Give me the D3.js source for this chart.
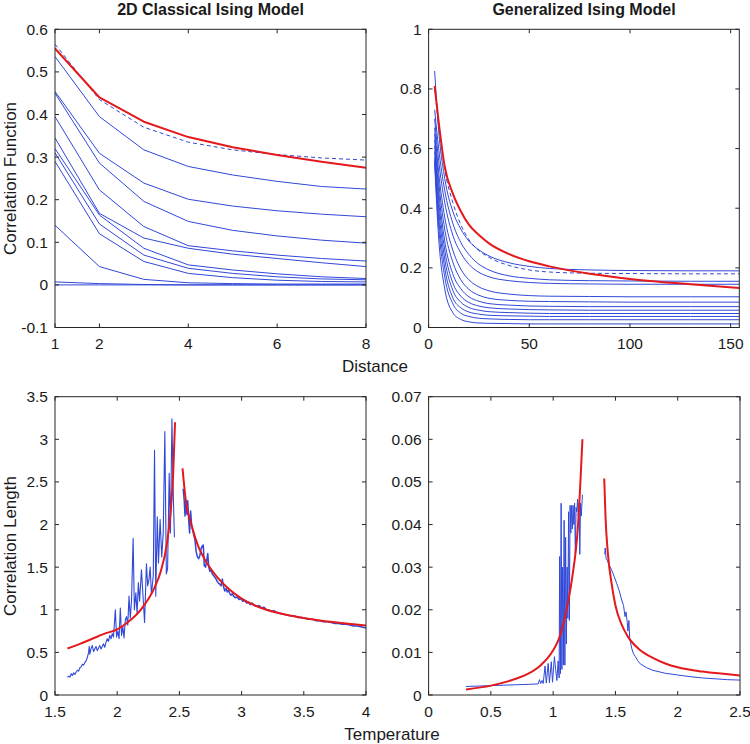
<!DOCTYPE html>
<html><head><meta charset="utf-8">
<script src="https://cdn.jsdelivr.net/npm/d3@7"></script>
<style>body{margin:0;background:#fff}svg{display:block}text{font-family:"Liberation Sans",Arial,Helvetica,sans-serif;fill:#1a1a1a}</style>
</head><body><svg id="c" width="750" height="744"></svg>
<script>
// ---------- DATA ----------
// Top-left: 2D Classical Ising, correlation vs distance
const tlDist = [1,2,3,4,5,6,7,8];
const tlFit = [0.555,0.440,0.383,0.347,0.323,0.305,0.289,0.275];
const tlDashed = [0.565,0.435,0.370,0.335,0.317,0.306,0.298,0.293];
const tlCurves = [
  [0.536,0.395,0.317,0.278,0.258,0.243,0.231,0.225],
  [0.454,0.309,0.239,0.201,0.185,0.174,0.166,0.160],
  [0.450,0.286,0.196,0.149,0.128,0.115,0.105,0.098],
  [0.395,0.223,0.137,0.092,0.080,0.070,0.062,0.056],
  [0.345,0.168,0.110,0.086,0.072,0.062,0.052,0.043],
  [0.320,0.164,0.086,0.047,0.035,0.026,0.019,0.015],
  [0.310,0.143,0.070,0.039,0.027,0.019,0.014,0.012],
  [0.290,0.120,0.055,0.027,0.017,0.011,0.008,0.007],
  [0.140,0.043,0.013,0.005,0.003,0.002,0.002,0.002],
  [0.007,0.003,0.001,0.000,0.000,0.000,0.000,0.000],
  [0.000,0.000,0.000,0.000,0.000,0.000,0.000,0.000]
];
// Top-right: Generalized Ising, correlation vs distance
const trDist = [3,5,8,12,16,20,25,30,40,50,60,80,100,130,155];
const trFit = [0.81,0.69,0.54,0.45,0.39,0.345,0.31,0.282,0.246,0.222,0.205,0.180,0.163,0.145,0.132];
const trDashed = [0.80,0.68,0.53,0.42,0.345,0.295,0.258,0.235,0.208,0.193,0.186,0.182,0.181,0.180,0.180];
const trCurves = [
  [0.86,0.66,0.50,0.39,0.33,0.29,0.26,0.24,0.217,0.205,0.198,0.193,0.191,0.190,0.190],
  [0.73,0.60,0.46,0.35,0.285,0.245,0.212,0.193,0.173,0.165,0.160,0.157,0.156,0.155,0.155],
  [0.70,0.56,0.42,0.31,0.25,0.212,0.185,0.170,0.157,0.151,0.148,0.146,0.145,0.145,0.145],
  [0.67,0.52,0.37,0.26,0.196,0.160,0.136,0.123,0.112,0.107,0.105,0.104,0.103,0.103,0.103],
  [0.65,0.49,0.33,0.22,0.160,0.128,0.108,0.098,0.091,0.088,0.087,0.086,0.085,0.085,0.085],
  [0.63,0.46,0.29,0.18,0.130,0.103,0.088,0.080,0.075,0.072,0.071,0.070,0.070,0.070,0.070],
  [0.61,0.43,0.26,0.15,0.105,0.084,0.072,0.066,0.062,0.060,0.059,0.058,0.058,0.058,0.058],
  [0.59,0.40,0.23,0.125,0.085,0.067,0.058,0.053,0.050,0.048,0.047,0.047,0.047,0.047,0.047],
  [0.57,0.37,0.20,0.10,0.066,0.052,0.045,0.041,0.039,0.038,0.037,0.037,0.037,0.037,0.037],
  [0.56,0.34,0.17,0.08,0.048,0.037,0.031,0.029,0.027,0.026,0.026,0.026,0.026,0.026,0.026],
  [0.55,0.30,0.13,0.05,0.027,0.019,0.015,0.014,0.013,0.012,0.012,0.012,0.012,0.012,0.012]
];
// Bottom-left: correlation length vs temperature (classical)
const blTempLow = [1.600,1.610,1.620,1.630,1.640,1.650,1.660,1.670,1.680,1.690,1.700,1.710,1.720,1.730,1.740,1.750,1.760,1.770,1.775,1.780,1.790,1.800,1.810,1.820,1.830,1.840,1.850,1.860,1.870,1.880,1.890,1.900,1.910,1.920,1.930,1.940,1.950,1.960,1.970,1.985,1.995,2.005,2.015,2.025,2.035,2.045,2.055,2.065,2.075,2.085,2.095,2.105,2.115,2.128,2.138,2.150,2.160,2.170,2.180,2.195,2.210,2.220,2.235,2.245,2.255,2.265,2.275,2.290,2.300,2.310,2.322,2.332,2.345,2.358,2.370,2.383,2.395,2.405,2.418,2.428,2.440,2.450,2.460];
const blLenLow = [0.21,0.22,0.21,0.25,0.23,0.26,0.24,0.27,0.29,0.28,0.32,0.33,0.36,0.35,0.38,0.40,0.44,0.50,0.57,0.48,0.55,0.58,0.51,0.54,0.57,0.52,0.55,0.58,0.54,0.57,0.60,0.56,0.62,0.66,0.63,0.70,0.66,0.72,0.68,1.00,0.68,0.75,0.66,1.02,0.70,0.80,0.67,0.88,0.92,0.82,1.16,0.90,1.10,1.84,1.00,1.20,0.95,1.32,1.10,1.47,1.10,0.85,1.54,1.28,1.35,1.50,1.18,1.40,2.87,1.16,2.09,1.55,2.06,1.62,1.90,3.09,1.42,1.48,2.60,1.90,3.24,2.40,1.85];
const blTempHigh = [2.530,2.538,2.545,2.552,2.560,2.567,2.575,2.582,2.590,2.598,2.605,2.615,2.625,2.635,2.645,2.655,2.665,2.675,2.685,2.692,2.700,2.710,2.720,2.728,2.736,2.745,2.755,2.765,2.775,2.785,2.795,2.805,2.815,2.825,2.835,2.845,2.855,2.865,2.875,2.885,2.895,2.905,2.915,2.925,2.935,2.950,2.965,2.980,2.995,3.010,3.025,3.040,3.055,3.070,3.085,3.100,3.120,3.140,3.160,3.180,3.200,3.220,3.240,3.260,3.280,3.300,3.330,3.360,3.390,3.420,3.450,3.480,3.510,3.540,3.570,3.600,3.630,3.660,3.690,3.720,3.750,3.780,3.810,3.840,3.870,3.900,3.930,3.960,3.990,4.000];
const blLenHigh = [2.42,2.30,2.10,2.28,2.12,2.28,2.05,1.90,2.16,2.00,1.95,1.88,1.82,1.68,1.62,1.60,1.64,1.72,1.75,1.76,1.52,1.50,1.58,1.66,1.50,1.45,1.47,1.42,1.40,1.38,1.36,1.33,1.31,1.30,1.28,1.36,1.27,1.22,1.25,1.21,1.23,1.19,1.17,1.19,1.16,1.14,1.15,1.12,1.13,1.10,1.11,1.08,1.09,1.06,1.08,1.05,1.04,1.05,1.02,1.03,1.00,1.00,0.98,0.99,0.97,0.96,0.95,0.94,0.93,0.93,0.91,0.91,0.90,0.89,0.89,0.87,0.87,0.86,0.86,0.85,0.84,0.84,0.83,0.83,0.82,0.81,0.81,0.80,0.79,0.79];
const blFitLowT = [1.60,1.70,1.80,1.90,2.00,2.10,2.20,2.30,2.35,2.40,2.43,2.45,2.465];
const blFitLowV = [0.545,0.60,0.66,0.72,0.77,0.87,1.02,1.26,1.45,1.78,2.15,2.60,3.20];
const blFitHighT = [2.525,2.55,2.60,2.65,2.70,2.80,2.90,3.00,3.20,3.40,3.60,3.80,4.00];
const blFitHighV = [2.66,2.30,1.98,1.75,1.60,1.39,1.24,1.13,1.00,0.93,0.88,0.845,0.815];
// Bottom-right: correlation length vs temperature (generalized)
const brTempLow = [0.30,0.40,0.50,0.60,0.70,0.80,0.88,0.89,0.90,0.91,0.92,0.935,0.945,0.96,0.97,0.985,0.995,1.01,1.02,1.03,1.04,1.048,1.052,1.058,1.064,1.07,1.076,1.082,1.088,1.094,1.10,1.106,1.112,1.118,1.124,1.13,1.136,1.142,1.148,1.154,1.16,1.166,1.172,1.178,1.184,1.19,1.196,1.202,1.208,1.214,1.22,1.226,1.235];
const brLenLow = [0.0020,0.0021,0.0022,0.0023,0.0024,0.0025,0.0026,0.0036,0.0027,0.0034,0.0027,0.0068,0.0028,0.0074,0.0029,0.0078,0.0030,0.0090,0.0060,0.0034,0.0080,0.0040,0.0325,0.0050,0.0450,0.0060,0.0300,0.0070,0.0410,0.0070,0.0370,0.0120,0.0300,0.0180,0.0430,0.0175,0.0445,0.0380,0.0445,0.0390,0.0445,0.0400,0.0450,0.0330,0.0440,0.0430,0.0460,0.0420,0.0450,0.0330,0.0450,0.0420,0.0470];
const brTempHigh = [1.414,1.418,1.425,1.435,1.45,1.47,1.49,1.51,1.53,1.55,1.565,1.577,1.585,1.595,1.60,1.608,1.615,1.62,1.63,1.643,1.66,1.68,1.70,1.75,1.80,1.90,2.00,2.10,2.20,2.30,2.40,2.50];
const brLenHigh = [0.0330,0.0345,0.0320,0.0315,0.0305,0.0293,0.0278,0.0262,0.0245,0.0223,0.0210,0.0184,0.0195,0.0170,0.0150,0.0175,0.0130,0.0125,0.0110,0.0098,0.0090,0.0080,0.0073,0.0064,0.0058,0.0051,0.0047,0.0043,0.0040,0.0038,0.0036,0.0035];
const brFitLowT = [0.30,0.50,0.70,0.80,0.90,1.00,1.05,1.10,1.15,1.20,1.235];
const brFitLowV = [0.0013,0.0022,0.0038,0.0050,0.0070,0.0105,0.0135,0.0190,0.0270,0.0400,0.0600];
const brFitHighT = [1.41,1.42,1.44,1.47,1.50,1.55,1.60,1.70,1.80,1.90,2.00,2.20,2.50];
const brFitHighV = [0.0508,0.0420,0.0330,0.0260,0.0210,0.0165,0.0137,0.0105,0.0087,0.0074,0.0065,0.0055,0.0046];

// ticks
const tlXTicks=[1,2,4,6,8], tlXLabels=["1","2","4","6","8"];
const tlYTicks=[-0.1,0,0.1,0.2,0.3,0.4,0.5,0.6], tlYLabels=["-0.1","0","0.1","0.2","0.3","0.4","0.5","0.6"];
const trXTicks=[0,50,100,150], trXLabels=["0","50","100","150"];
const trYTicks=[0,0.2,0.4,0.6,0.8,1], trYLabels=["0","0.2","0.4","0.6","0.8","1"];
const blXTicks=[1.5,2,2.5,3,3.5,4], blXLabels=["1.5","2","2.5","3","3.5","4"];
const blYTicks=[0,0.5,1,1.5,2,2.5,3,3.5], blYLabels=["0","0.5","1","1.5","2","2.5","3","3.5"];
const brXTicks=[0,0.5,1,1.5,2,2.5], brXLabels=["0","0.5","1","1.5","2","2.5"];
const brYTicks=[0,0.01,0.02,0.03,0.04,0.05,0.06,0.07], brYLabels=["0","0.01","0.02","0.03","0.04","0.05","0.06","0.07"];

// ---------- DRAW ----------
const svg=d3.select("#c");
const BLUE="#3048d8", RED="#e3191c", AX="#262626";
let clipN=0;
function panel(o){
  const x=d3.scaleLinear().domain(o.xd).range([o.l,o.r]);
  const y=d3.scaleLinear().domain(o.yd).range([o.b,o.t]);
  const g=svg.append("g");
  const id="clip"+(clipN++);
  svg.append("clipPath").attr("id",id).append("rect").attr("x",o.l).attr("y",o.t).attr("width",o.r-o.l).attr("height",o.b-o.t);
  const plot=g.append("g").attr("clip-path",`url(#${id})`);
  o.draw(plot,x,y);
  g.append("rect").attr("x",o.l).attr("y",o.t).attr("width",o.r-o.l).attr("height",o.b-o.t).attr("fill","none").attr("stroke",AX).attr("stroke-width",1);
  const tl=4;
  o.xt.forEach((v,i)=>{
    const px=x(v);
    g.append("line").attr("x1",px).attr("x2",px).attr("y1",o.b).attr("y2",o.b-tl).attr("stroke",AX);
    g.append("line").attr("x1",px).attr("x2",px).attr("y1",o.t).attr("y2",o.t+tl).attr("stroke",AX);
    g.append("text").attr("x",px).attr("y",o.b+21.5).attr("text-anchor","middle").attr("font-size","15.5px").text(o.xl[i]);
  });
  o.yt.forEach((v,i)=>{
    const py=y(v);
    g.append("line").attr("x1",o.l).attr("x2",o.l+tl).attr("y1",py).attr("y2",py).attr("stroke",AX);
    g.append("line").attr("x1",o.r).attr("x2",o.r-tl).attr("y1",py).attr("y2",py).attr("stroke",AX);
    g.append("text").attr("x",o.l-7).attr("y",py+5.5).attr("text-anchor","end").attr("font-size","15.5px").text(o.yl[i]);
  });
}
function path(plot,xs,ys,x,y,opt){
  const pts=xs.map((v,i)=>[v,ys[i]]);
  const ln=d3.line().x(d=>x(d[0])).y(d=>y(d[1])).curve(opt.curve||d3.curveLinear);
  plot.append("path").attr("d",ln(pts)).attr("fill","none").attr("stroke",opt.c).attr("stroke-width",opt.w)
    .attr("stroke-dasharray",opt.dash||null).attr("stroke-linejoin","round");
}
const T1=29.3,B1=327.5,T2=396.7,B2=695;
panel({l:55,r:366,t:T1,b:B1,xd:[1,8],yd:[-0.1,0.6],xt:tlXTicks,xl:tlXLabels,yt:tlYTicks,yl:tlYLabels,
  draw:(p,x,y)=>{
    tlCurves.forEach(c=>path(p,tlDist,c,x,y,{c:BLUE,w:1}));
    path(p,tlDist,tlDashed,x,y,{c:BLUE,w:1,dash:"4,3"});
    path(p,tlDist,tlFit,x,y,{c:RED,w:2});
  }});
panel({l:428.6,r:739.3,t:T1,b:B1,xd:[0,154.3],yd:[0,1],xt:trXTicks,xl:trXLabels,yt:trYTicks,yl:trYLabels,
  draw:(p,x,y)=>{
    trCurves.forEach(c=>path(p,trDist,c,x,y,{c:BLUE,w:1,curve:d3.curveMonotoneX}));
    path(p,trDist,trDashed,x,y,{c:BLUE,w:1,dash:"4,3",curve:d3.curveMonotoneX});
    path(p,trDist,trFit,x,y,{c:RED,w:2,curve:d3.curveMonotoneX});
  }});
panel({l:55,r:366,t:T2,b:B2,xd:[1.5,4],yd:[0,3.5],xt:blXTicks,xl:blXLabels,yt:blYTicks,yl:blYLabels,
  draw:(p,x,y)=>{
    path(p,blTempLow,blLenLow,x,y,{c:BLUE,w:1.1});
    path(p,blTempHigh,blLenHigh,x,y,{c:BLUE,w:1.5});
    path(p,blFitLowT,blFitLowV,x,y,{c:RED,w:2,curve:d3.curveMonotoneX});
    path(p,blFitHighT,blFitHighV,x,y,{c:RED,w:2,curve:d3.curveMonotoneX});
  }});
panel({l:428.6,r:740,t:T2,b:B2,xd:[0,2.5],yd:[0,0.07],xt:brXTicks,xl:brXLabels,yt:brYTicks,yl:brYLabels,
  draw:(p,x,y)=>{
    path(p,brTempLow,brLenLow,x,y,{c:BLUE,w:1});
    path(p,brTempHigh,brLenHigh,x,y,{c:BLUE,w:1});
    path(p,brFitLowT,brFitLowV,x,y,{c:RED,w:2,curve:d3.curveMonotoneX});
    path(p,brFitHighT,brFitHighV,x,y,{c:RED,w:2,curve:d3.curveMonotoneX});
  }});
// titles & labels
svg.append("text").attr("x",210.5).attr("y",15).attr("text-anchor","middle").attr("font-size","16px").attr("font-weight","bold").text("2D Classical Ising Model");
svg.append("text").attr("x",584).attr("y",15).attr("text-anchor","middle").attr("font-size","16px").attr("font-weight","bold").text("Generalized Ising Model");
svg.append("text").attr("x",375).attr("y",372).attr("text-anchor","middle").attr("font-size","17px").text("Distance");
svg.append("text").attr("x",392).attr("y",740).attr("text-anchor","middle").attr("font-size","17px").text("Temperature");
svg.append("text").attr("transform","translate(15.5,178.5) rotate(-90)").attr("text-anchor","middle").attr("font-size","17px").text("Correlation Function");
svg.append("text").attr("transform","translate(15.5,546) rotate(-90)").attr("text-anchor","middle").attr("font-size","17px").text("Correlation Length");
</script></body></html>
